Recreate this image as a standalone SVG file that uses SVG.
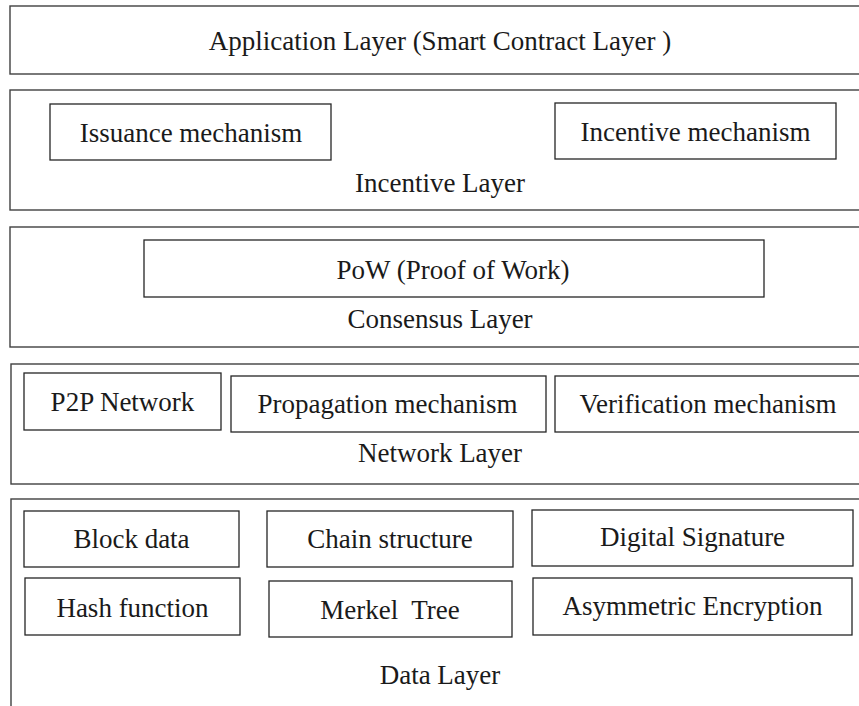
<svg xmlns="http://www.w3.org/2000/svg" width="859" height="706" viewBox="0 0 859 706">
<style>
.layer{fill:#ffffff;stroke:#404040;stroke-width:1.4}
.box{fill:#ffffff;stroke:#262626;stroke-width:1.3}
.t{font-family:'Liberation Serif','Times New Roman',serif;font-size:27px;fill:#1a1a1a;text-anchor:middle}
</style>
<rect width="859" height="706" fill="#ffffff"/>
<g id="application-layer">
<rect class="layer" x="10" y="6" width="860" height="68"/>
<text class="t" x="440" y="50">Application Layer (Smart Contract Layer )</text>
</g>
<g id="incentive-layer">
<rect class="layer" x="10" y="90" width="860" height="120"/>
<text class="t" x="440" y="192">Incentive Layer</text>
</g>
<g id="issuance-mechanism">
<rect class="box" x="50" y="104" width="281" height="56"/>
<text class="t" x="191" y="142">Issuance mechanism</text>
</g>
<g id="incentive-mechanism">
<rect class="box" x="555" y="103" width="281" height="56"/>
<text class="t" x="695.5" y="141">Incentive mechanism</text>
</g>
<g id="consensus-layer">
<rect class="layer" x="10" y="227" width="860" height="120"/>
<text class="t" x="440" y="328">Consensus Layer</text>
</g>
<g id="pow">
<rect class="box" x="144" y="240" width="620" height="57"/>
<text class="t" x="453" y="279">PoW (Proof of Work)</text>
</g>
<g id="network-layer">
<rect class="layer" x="11" y="364" width="860" height="120"/>
<text class="t" x="440" y="462">Network Layer</text>
</g>
<g id="p2p-network">
<rect class="box" x="24" y="373" width="197" height="57"/>
<text class="t" x="122.5" y="411">P2P Network</text>
</g>
<g id="propagation-mechanism">
<rect class="box" x="231" y="376" width="315" height="56"/>
<text class="t" x="387.5" y="413">Propagation mechanism</text>
</g>
<g id="verification-mechanism">
<rect class="box" x="555" y="376" width="315" height="56"/>
<text class="t" x="708" y="413">Verification mechanism</text>
</g>
<g id="data-layer">
<rect class="layer" x="11" y="499" width="860" height="220"/>
<text class="t" x="440" y="684">Data Layer</text>
</g>
<g id="block-data">
<rect class="box" x="24" y="511" width="215" height="56"/>
<text class="t" x="131.5" y="548">Block data</text>
</g>
<g id="chain-structure">
<rect class="box" x="267" y="511" width="246" height="56"/>
<text class="t" x="390" y="548">Chain structure</text>
</g>
<g id="digital-signature">
<rect class="box" x="532" y="510" width="321" height="56"/>
<text class="t" x="692.5" y="546">Digital Signature</text>
</g>
<g id="hash-function">
<rect class="box" x="25" y="578" width="215" height="57"/>
<text class="t" x="132.5" y="617">Hash function</text>
</g>
<g id="merkel-tree">
<rect class="box" x="269" y="581" width="243" height="56"/>
<text class="t" x="390" y="619" xml:space="preserve">Merkel  Tree</text>
</g>
<g id="asymmetric-encryption">
<rect class="box" x="533" y="578" width="319" height="57"/>
<text class="t" x="692.5" y="615">Asymmetric Encryption</text>
</g>
<g id="connectors"></g>
</svg>
